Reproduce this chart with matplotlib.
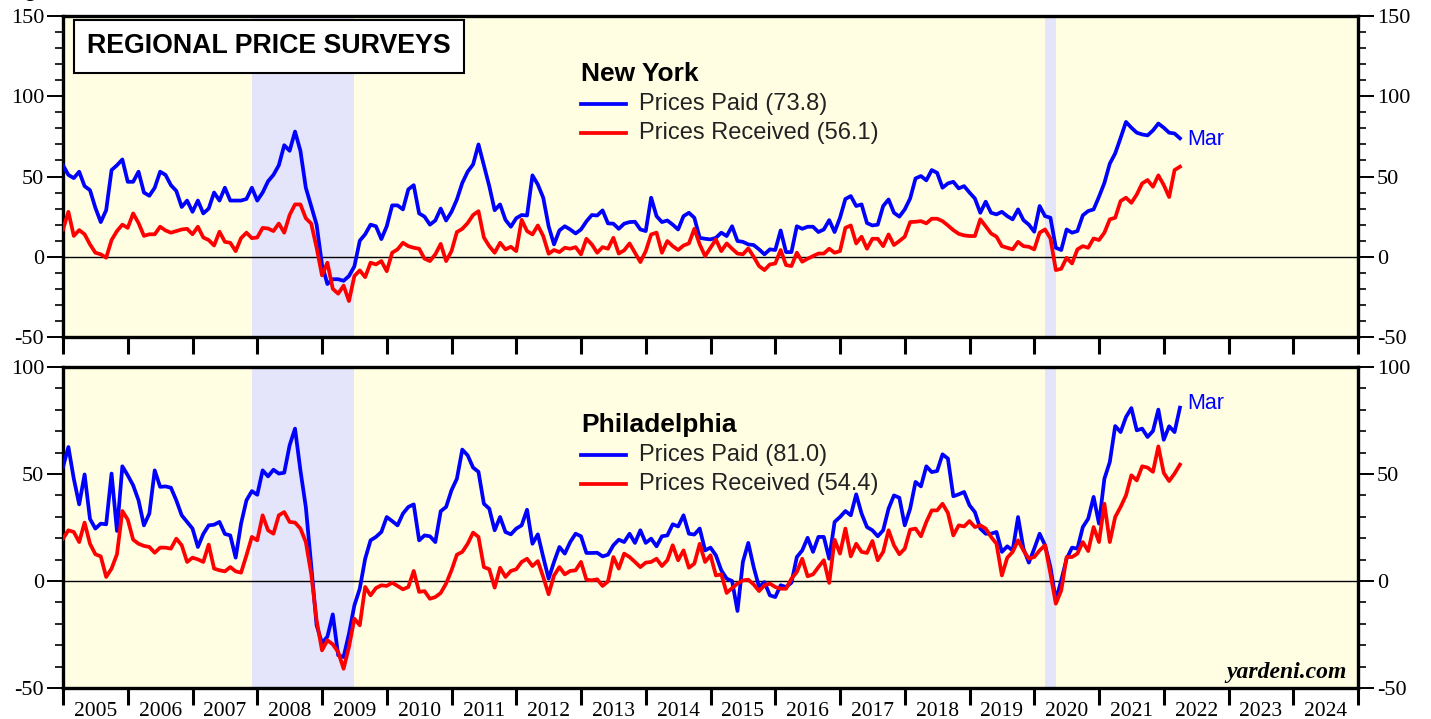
import matplotlib
matplotlib.use("Agg")
import matplotlib.pyplot as plt
import numpy as np
from matplotlib.ticker import MultipleLocator

plt.rcParams["axes.unicode_minus"] = False

# Monthly readings, Dec 2004 .. Mar 2022 (208 points)
ny_paid = [
    57, 51, 49, 53, 44, 41.5, 30.5, 21.6, 29, 54, 57, 60.6,
    46.7, 46.7, 53, 40, 38, 43, 53, 51, 44.6, 41, 31, 35,
    28, 35, 27, 30, 40, 35, 43, 35, 35, 35, 36, 43,
    35, 40, 47, 51, 57, 69.5, 66, 78, 66, 43, 31.5, 20,
    -5, -17, -14, -14, -15, -12, -6, 10, 14, 20, 19, 11,
    19, 32, 32, 29.5, 42, 44.6, 27, 25, 20, 22.6, 30, 22.6,
    28, 35.7, 46, 53, 57.5, 70, 57, 44, 29, 32.6, 23, 18.7,
    24, 26, 25.7, 50.7, 45, 36.8, 19, 7.7, 16.4, 19, 17, 14.5,
    17, 22, 26, 25.7, 28.9, 20.8, 20.6, 17.4, 20.6, 21.6, 21.8, 17,
    16, 36.8, 25.3, 21.6, 22.6, 20, 17, 25.3, 27.4, 24.3, 11.8, 11.2,
    10.8, 11.8, 15, 12.9, 19, 9.8, 9.3, 7.7, 7.3, 4.6, 1.5, 4.6,
    4.2, 16.4, 2.9, 2.9, 19, 17.4, 18.7, 18.7, 15.4, 17, 22.8, 15.4,
    24.3, 36, 37.8, 31.6, 32.6, 21, 19.5, 20, 31.6, 35.7, 27.4, 25,
    29.5, 36.3, 48.8, 50.3, 47.6, 54, 52.3, 43, 45.7, 46.7, 42.6, 44,
    40, 36.3, 27.4, 34.3, 27.4, 26.4, 28, 25.3, 23.3, 29.5, 22.8, 20,
    15.6, 31.6, 25.3, 24.3, 5.6, 4.2, 17, 15, 16, 25.8, 28.5, 29.5,
    37.4, 46, 58, 64.4, 74, 84, 80.4, 77.3, 76.2, 75.6, 78.7, 83,
    80.4, 77.3, 76.8, 73.8,
]
ny_received = [
    17, 28, 13, 16.6, 14, 7.7, 2.5, 1.5, -0.6, 10.4, 16, 20,
    18, 27, 21, 13, 14, 14, 18.7, 16.4, 15, 16, 17, 17.4,
    14, 18.7, 12, 10.4, 7, 15.6, 9.3, 8.7, 3.5, 11.6, 15, 11.6,
    12, 18, 17.6, 16, 20.7, 15, 26, 32.6, 32.6, 24, 20.7, 5.6,
    -11.6, -3.7, -20, -23, -18, -27.6, -12, -8.5, -12.7, -3.7, -4.8, -2.7,
    -9, 2.5, 4.6, 8.7, 6.6, 5.6, 5, -1.2, -2.7, 1.5, 8, -2.7,
    3.5, 15.4, 17.4, 21, 26, 28.4, 12, 6.6, 2.5, 8.7, 4.6, 6.2,
    3.5, 23, 16, 13.9, 19.5, 12.9, 1.9, 4.2, 2.9, 5.6, 5, 6,
    1.5, 11.2, 7.7, 2.5, 6, 5, 11.8, 2, 4, 8.3, 2.5, -3.3,
    3.5, 13.9, 15, 2.5, 9.8, 6.6, 4.2, 7, 8.3, 17.4, 7.7, 0.4,
    5.6, 10.8, 3.5, 8.3, 5, 2, 1.5, 5.2, 0, -5.8, -8.3, -4.8,
    -4.2, 4.2, -5.2, -5.8, 2.5, -3.1, -1.2, 0.4, 2, 2, 5, 2.5,
    3.5, 18, 19.5, 8.3, 12.5, 5, 11.2, 11.2, 6.6, 13.9, 7.3, 9.8,
    12.5, 21.6, 21.8, 22.2, 20.8, 23.7, 23.7, 22.2, 19.5, 16.6, 14.3, 13.3,
    12.9, 12.9, 23.3, 19, 14.5, 12.5, 6.6, 5.6, 4.6, 9.3, 6.6, 6.2,
    4.6, 15, 17, 11.4, -8.3, -7.5, -0.6, -4.2, 4.6, 6.6, 5.6, 11.4,
    10.4, 15, 23.3, 24.3, 34.7, 36.8, 33.6, 38.8, 45.7, 47.8, 43.6, 50.7,
    44.7, 37.2, 54, 56.1,
]
philly_paid = [
    53.3, 62.6, 47.8, 35.8, 49.8, 29, 24.5, 26.8, 26.5, 50.2, 23.4, 53.6,
    49.4, 44.7, 37.7, 26, 31.5, 51.7, 44, 44.2, 43.6, 37.7, 30.7, 27.6,
    24.5, 15.9, 22, 26, 26.3, 27.6, 22, 21.3, 10.9, 26.8, 37.7, 42,
    40.3, 51.7, 48.9, 52, 50.2, 50.6, 63.4, 71.2, 51.7, 34.6, 7.3, -20.7,
    -29, -26, -15.6, -34.7, -35.5, -24.6, -11.4, -3.6, 10.4, 19, 20.6, 22.9,
    29.9, 28, 26, 31.5, 34.6, 35.8, 19, 21.3, 20.9, 18.2, 32.6, 34.6,
    42.4, 47.8, 61.4, 58.7, 53, 51, 36.1, 33.8, 23.7, 29.9, 22.9, 21.8,
    24.5, 26, 33.3, 17.4, 21.8, 11.2, 1.1, 8.9, 15.9, 12.8, 18.2, 22.1,
    20.9, 13.1, 13.1, 13.2, 11.5, 12.3, 16.7, 19.3, 18.2, 22.1, 17.8, 23.7,
    17.8, 19.8, 16.2, 20.9, 21.3, 26.5, 25.5, 30.7, 22.1, 21.7, 24.5, 14.3,
    15.6, 12, 5, 1.1, 0, -14, 8.9, 17.8, 6.5, -2.8, -0.5, -6.7,
    -7.5, -2, -2.8, -0.8, 11.2, 14.3, 20.2, 13.6, 20.6, 20.6, 10.4, 27.6,
    29.9, 32.7, 30.7, 40.5, 31.5, 25.2, 23.7, 20.9, 23.7, 33.8, 40, 38.9,
    26, 33.8, 46.3, 44.2, 53.6, 50.9, 51.4, 59.2, 57.2, 39.6, 40.5, 41.6,
    35.4, 32.2, 24.5, 22.1, 22.1, 22.9, 13.6, 16.2, 14.3, 29.9, 15.1, 8.6,
    15.1, 22.1, 16.7, 6.5, -9, 0.3, 10.4, 15.6, 15.1, 25.2, 29.1, 39.3,
    26.8, 47.8, 55.6, 72.4, 69.6, 76.6, 80.8, 70.4, 71.2, 67.3, 70.1, 80.1,
    66, 72.3, 69.6, 81.0,
]
philly_received = [
    19.8, 23.7, 22.9, 18.2, 27.3, 17.4, 12.5, 11.5, 1.9, 5.8, 12.5, 32.7,
    28.7, 19.3, 17.4, 16.4, 15.9, 13.2, 15.6, 15.6, 15.1, 19.8, 16.7, 8.9,
    10.9, 10.1, 8.9, 17, 5.8, 5, 4.5, 6.5, 4.5, 3.9, 12, 20.6,
    19, 30.7, 23.7, 22.1, 30.7, 32.2, 27.6, 27.3, 24.5, 18.2, 3.4, -18.4,
    -32.4, -27.7, -29.6, -33.2, -41, -30.8, -17.6, -20.7, -2.8, -6.7, -3.3, -2,
    -2.3, -0.8, -2.3, -3.9, -2.8, 4.7, -5.1, -4.7, -8.3, -7.5, -5.6, -1.2,
    5, 12.3, 13.6, 17.4, 22.6, 20.6, 6.5, 5.5, -3.1, 6.2, 1.9, 4.7,
    5.5, 8.9, 10.4, 7, 9.3, 1.9, -6.2, 2.6, 6.5, 3.1, 4.7, 5,
    8.9, 0.6, 0.3, 0.8, -2.3, -0.2, 11.2, 5.8, 12.8, 11.2, 8.9, 6.5,
    8.6, 8.9, 10.4, 7, 9.7, 16.7, 9.7, 14.3, 6.2, 8.1, 17.4, 8.9,
    12, 2.6, 3.1, -5.6, -3.3, -1.2, 0.3, 0.6, -1.6, -4.7, -2, -1.2,
    -2.8, -3.6, -3.6, 1.1, 4.2, 10.4, 2.2, 3.1, 6.5, 9.7, -0.9, 19.3,
    12.8, 24.5, 11.5, 17.4, 13.6, 13.1, 18.7, 9.7, 13.6, 23.7, 16.7, 12.5,
    15.1, 24, 24.5, 20.9, 27.6, 33, 33, 36.1, 31.8, 21.3, 26, 25.5,
    28, 25.2, 26, 24.5, 20.6, 17.4, 2.6, 10.9, 13.6, 19, 14.3, 10.4,
    11.2, 14.3, 16.7, 3.4, -10.6, -4.4, 11.2, 11.2, 12.8, 18.2, 14, 25.2,
    18.2, 36.1, 18.2, 29.9, 34.6, 40, 49.4, 47, 53.6, 53, 51, 62.9,
    50.5, 46.7, 50.2, 54.4,
]

recession_start = [2007.917, 2020.167]
recession_end = [2009.5, 2020.333]
years = list(range(2005, 2025))

BLUE = "#0000ff"
RED = "#ff0000"
BG = "#fffee3"
SHADE = "#e4e4fb"
SERIF = "Liberation Serif"
SANS = "Liberation Sans"

x = 2005 + np.arange(len(ny_paid)) / 12.0

fig = plt.figure(figsize=(14.31, 7.19), dpi=100)
ax_ny = fig.add_axes([63 / 1431, 382 / 719, 1295 / 1431, 321 / 719])
ax_ph = fig.add_axes([63 / 1431, 31 / 719, 1295 / 1431, 321 / 719])


def style_axes(ax, ylim, show_years):
    ax.set_facecolor(BG)
    for s0, s1 in zip(recession_start, recession_end):
        ax.axvspan(s0, s1, color=SHADE, lw=0, zorder=0)
    ax.axhline(0, color="black", lw=1.0, zorder=1)
    ax.set_xlim(2005, 2025)
    ax.set_ylim(*ylim)
    ax.yaxis.set_major_locator(MultipleLocator(50))
    ax.yaxis.set_minor_locator(MultipleLocator(10))
    ax.set_xticks(range(2005, 2026))
    ax.set_xticklabels([])
    ax.tick_params(axis="y", which="major", direction="out", length=11.5, width=1.4,
                   left=True, right=True, labelleft=True, labelright=True,
                   labelsize=16, pad=2)
    ax.tick_params(axis="y", which="minor", direction="out", length=6, width=1.2,
                   left=True, right=True)
    ax.tick_params(axis="x", which="major", direction="out", length=12, width=2.2)
    for lab in ax.get_yticklabels():
        lab.set_fontfamily(SERIF)
    for sp in ax.spines.values():
        sp.set_linewidth(2.4)
    if show_years:
        ax.set_xticks([y + 0.5 for y in years], minor=True)
        ax.set_xticklabels([str(y) for y in years], minor=True,
                           fontfamily=SERIF, fontsize=15.5)
        ax.tick_params(axis="x", which="minor", length=0, pad=10)


style_axes(ax_ny, (-50, 150), False)
style_axes(ax_ph, (-50, 100), True)

ax_ny.plot(x, ny_paid, color=BLUE, lw=2.7, zorder=3, solid_joinstyle="round")
ax_ny.plot(x, ny_received, color=RED, lw=2.7, zorder=3, solid_joinstyle="round")
ax_ph.plot(x, philly_paid, color=BLUE, lw=2.7, zorder=3, solid_joinstyle="round")
ax_ph.plot(x, philly_received, color=RED, lw=2.7, zorder=3, solid_joinstyle="round")

# "Mar" end labels
ax_ny.annotate("Mar", (x[-1], ny_paid[-1]), xytext=(5, -1), textcoords="offset points",
               color=BLUE, fontsize=15.5, fontfamily=SANS, va="center")
ax_ph.annotate("Mar", (x[-1], philly_paid[-1]), xytext=(5, 3), textcoords="offset points",
               color=BLUE, fontsize=15.5, fontfamily=SANS, va="center")


def legend_block(ax, title, paid, received):
    ax.text(0.400, 0.82, title, transform=ax.transAxes, fontsize=19,
            fontweight="bold", fontfamily=SANS, va="center")
    for yy, col, lab in [(0.726, BLUE, f"Prices Paid ({paid:.1f})"),
                         (0.636, RED, f"Prices Received ({received:.1f})")]:
        ax.plot([0.400, 0.435], [yy, yy], transform=ax.transAxes, color=col, lw=2.7)
        ax.text(0.445, yy, lab, transform=ax.transAxes, fontsize=17,
                fontfamily=SANS, color="#222222", va="center")


legend_block(ax_ny, "New York", ny_paid[-1], ny_received[-1])
legend_block(ax_ph, "Philadelphia", philly_paid[-1], philly_received[-1])

# title box
ax_ny.text(0.0185, 0.906, "REGIONAL PRICE SURVEYS", transform=ax_ny.transAxes,
           fontsize=19.3, fontweight="bold", fontfamily=SANS, va="center",
           bbox=dict(boxstyle="square,pad=0.5", fc="white", ec="black", lw=1.5))

ax_ph.text(0.9915, 0.047, "yardeni.com", transform=ax_ph.transAxes, ha="right",
           va="center", fontsize=17, fontweight="bold", fontstyle="italic",
           fontfamily=SERIF)

fig.text(0.003, 1.006, "Figure 1.", fontsize=16, fontweight="bold",
         fontfamily=SANS, va="baseline")

fig.savefig("out.png", dpi=100)
